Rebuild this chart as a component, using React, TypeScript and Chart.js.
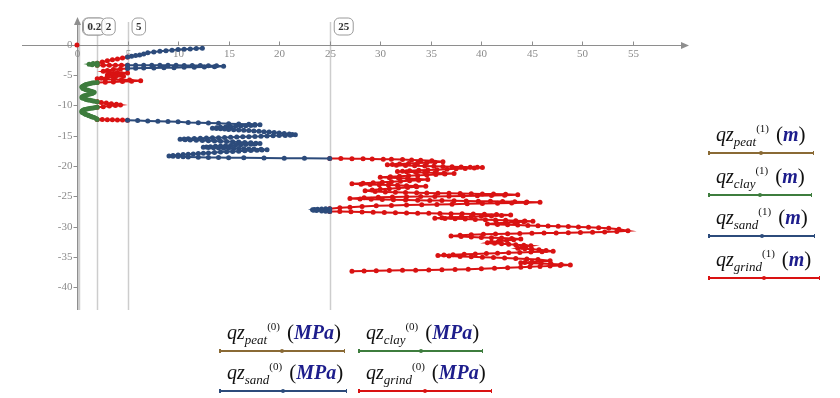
import React, { useEffect, useRef } from "react";
import { Chart, registerables } from "chart.js";
Chart.register(...registerables);

// ---------- axis / marker data ----------
const xTickValues = [0, 5, 10, 15, 20, 25, 30, 35, 40, 45, 50, 55];
const yTickValues = [0, -5, -10, -15, -20, -25, -30, -35, -40];
const markerValues = [0.1, 0.2, 2, 5, 25];
const markerLabels = ["0.1", "0.2", "2", "5", "25"];

// ---------- series names ----------
const soilNames = ["peat", "clay", "sand", "grind"];
const soilColors = ["#8a6a35", "#3e7d3e", "#2c4b7b", "#d91212"];

// ---------- data: [q (MPa), z (m)] per segment ----------
const peatSegments: number[][][] = [];

const claySeg1 = [[2, -3.0], [1.6, -3.08], [1.2, -3.18], [1.5, -3.28], [2, -3.35]];
const claySeg2 = [[2, -6.2], [1.7, -6.25], [1.5, -6.3], [1.3, -6.38], [1.1, -6.45], [0.9, -6.52], [0.8, -6.6], [0.7, -6.7], [0.6, -6.8], [0.5, -6.9], [0.5, -7.0], [0.6, -7.1], [0.6, -7.2], [0.8, -7.3], [0.9, -7.4], [1.1, -7.5], [1.3, -7.6], [1.5, -7.7], [1.7, -7.8], [1.6, -7.9], [1.5, -8.0], [1.3, -8.1], [1.1, -8.2], [0.9, -8.3], [0.7, -8.4], [0.6, -8.5], [0.5, -8.6], [0.5, -8.7], [0.6, -8.8], [0.8, -8.9], [0.9, -9.0], [1.1, -9.08], [1.3, -9.15], [1.5, -9.22], [1.7, -9.3], [2, -9.4]];
const claySeg3 = [[2, -10.3], [1.8, -10.35], [1.6, -10.4], [1.4, -10.45], [1.2, -10.5], [1.0, -10.58], [0.8, -10.65], [0.7, -10.72], [0.6, -10.8], [0.5, -10.9], [0.5, -11.0], [0.5, -11.1], [0.6, -11.2], [0.7, -11.3], [0.8, -11.4], [0.9, -11.5], [1.1, -11.6], [1.2, -11.7], [1.4, -11.8], [1.5, -11.9], [1.7, -12.0], [1.9, -12.15], [2, -12.3]];

const sandSeg1 = [[12.4, -0.55], [11.8, -0.6], [11.2, -0.65], [10.6, -0.7], [10, -0.75], [9.4, -0.85], [8.8, -0.95], [8.2, -1.05], [7.6, -1.15], [7.0, -1.3], [6.6, -1.5], [6.2, -1.65], [5.8, -1.75], [5.4, -1.85], [5.0, -2.0]];
const sandSeg2 = [[5, -3.35], [5.8, -3.35], [6.6, -3.35], [7.4, -3.35], [8.2, -3.35], [9, -3.35], [9.8, -3.35], [10.6, -3.4], [11.4, -3.4], [12.2, -3.4], [13, -3.45], [13.8, -3.45], [14.5, -3.5], [13.6, -3.6], [12.6, -3.65], [11.6, -3.7], [10.6, -3.7], [9.6, -3.75], [8.6, -3.75], [7.6, -3.8], [6.6, -3.8], [5.8, -3.85], [5, -3.9]];
const sandSeg3 = [[5, -12.45], [6, -12.5], [7, -12.55], [8, -12.6], [9, -12.65], [10, -12.7], [11, -12.8], [12, -12.85], [13, -12.9], [14, -12.95], [15, -13.0], [16, -13.05], [17, -13.1], [17.6, -13.15], [18.1, -13.2], [17.6, -13.25], [17.2, -13.3], [16.7, -13.35], [16.2, -13.4], [15.7, -13.45], [15.2, -13.5], [14.7, -13.55], [14.2, -13.6], [13.8, -13.68], [13.4, -13.75], [13.8, -13.8], [14.2, -13.85], [14.6, -13.9], [15, -13.95], [15.5, -14.0], [16, -14.05], [16.5, -14.1], [17, -14.15], [17.5, -14.2], [18, -14.25], [18.5, -14.32], [19, -14.4], [19.5, -14.48], [20, -14.55], [20.5, -14.62], [21, -14.7], [21.3, -14.78], [21.6, -14.85], [21.1, -14.9], [20.6, -14.95], [20, -14.98], [19.4, -15.0], [18.8, -15.05], [18.2, -15.1], [17.6, -15.12], [17, -15.15], [16.4, -15.18], [15.8, -15.2], [15.2, -15.25], [14.6, -15.3], [14, -15.32], [13.4, -15.35], [12.8, -15.38], [12.2, -15.4], [11.6, -15.45], [11, -15.5], [10.6, -15.55], [10.2, -15.6], [10.7, -15.65], [11.2, -15.7], [11.8, -15.75], [12.4, -15.8], [13, -15.82], [13.6, -15.85], [14.2, -15.9], [14.8, -15.95], [15.4, -16.0], [16, -16.05], [16.6, -16.1], [17.2, -16.15], [17.7, -16.22], [18.1, -16.3], [17.6, -16.35], [17.2, -16.4], [16.7, -16.45], [16.2, -16.5], [15.7, -16.55], [15.2, -16.6], [14.7, -16.65], [14.2, -16.7], [13.7, -16.75], [13.2, -16.8], [12.8, -16.85], [12.5, -16.9], [13, -16.95], [13.5, -17.0], [14, -17.02], [14.5, -17.05], [15, -17.08], [15.5, -17.1], [16, -17.12], [16.5, -17.15], [17, -17.18], [17.5, -17.2], [18.2, -17.25], [18.8, -17.3], [18.3, -17.35], [17.8, -17.4], [17.2, -17.45], [16.6, -17.5], [16, -17.55], [15.4, -17.6], [14.8, -17.65], [14.2, -17.7], [13.6, -17.78], [13, -17.85], [12.5, -17.9], [12, -17.95], [11.5, -18.0], [11, -18.05], [10.5, -18.12], [10, -18.2], [9.5, -18.28], [9.1, -18.35], [9.5, -18.4], [10, -18.45], [10.5, -18.48], [11, -18.5], [12, -18.55], [13, -18.58], [14, -18.6], [15, -18.62], [16.5, -18.65], [18.5, -18.68], [20.5, -18.7], [22.5, -18.72], [25, -18.75]];
const sandSeg4 = [[25, -27.05], [24.6, -27.08], [24.2, -27.1], [23.8, -27.15], [23.5, -27.2], [23.3, -27.25], [23.4, -27.3], [23.7, -27.35], [24.2, -27.42], [24.6, -27.46], [25, -27.5]];

const grindSeg0 = [[0, 0]];
const grindSeg1 = [[5, -2.0], [4.5, -2.15], [4, -2.3], [3.5, -2.45], [3, -2.6], [2.5, -2.8], [2, -3.0]];
const grindSeg2 = [[2, -3.35], [2.6, -3.35], [3.2, -3.35], [3.8, -3.35], [4.4, -3.35], [5, -3.35]];
const grindSeg3 = [[5, -3.9], [4.3, -3.95], [3.6, -4.05], [3, -4.2], [2.6, -4.35], [3.2, -4.45], [4, -4.55], [5, -4.65], [4.4, -4.75], [3.6, -4.85], [3, -4.95], [3.8, -5.05], [4.6, -5.15], [3.8, -5.25], [3, -5.35], [2.4, -5.5], [2, -5.6], [2.8, -5.65], [3.6, -5.7], [4.4, -5.75], [5.2, -5.8], [6.3, -5.9], [5.4, -6.0], [4.5, -6.05], [3.6, -6.1], [2.8, -6.15], [2, -6.2]];
const grindSeg4 = [[2, -9.4], [2.4, -9.5], [2.9, -9.6], [3.4, -9.7], [3.9, -9.8], [4.3, -9.9], [3.8, -10.0], [3.2, -10.1], [2.6, -10.2], [2, -10.3]];
const grindSeg5 = [[2, -12.3], [2.5, -12.32], [3, -12.34], [3.5, -12.36], [4, -12.38], [4.5, -12.4], [5, -12.42]];
const grindSeg6 = [
  [25, -18.75], [26.1, -18.77], [27.2, -18.79], [28.3, -18.81], [29.2, -18.84], [30.3, -18.87], [31.1, -18.9], [32.2, -18.94], [33.1, -18.99], [34, -19.05], [35.1, -19.14], [36.2, -19.3],
  [35.4, -19.38], [34.6, -19.45], [33.7, -19.52], [32.8, -19.6], [31.9, -19.68], [31.2, -19.74], [30.7, -19.8],
  [31.6, -19.86], [32.5, -19.92], [33.4, -19.97], [34.4, -20.02], [35.3, -20.06], [36.2, -20.1], [37.1, -20.13], [38, -20.16], [38.9, -20.19], [39.6, -20.22], [40.1, -20.26],
  [39.3, -20.33], [38.4, -20.4], [37.5, -20.47], [36.6, -20.53], [35.6, -20.6], [34.7, -20.66], [33.8, -20.72], [32.9, -20.79], [32.2, -20.85], [31.7, -20.9],
  [32.6, -20.97], [33.5, -21.03], [34.4, -21.09], [35.4, -21.14], [36.3, -21.19], [37.3, -21.25],
  [36.4, -21.33], [35.5, -21.41], [34.6, -21.48], [33.7, -21.55], [32.8, -21.62], [31.9, -21.69], [31, -21.76], [30, -21.85],
  [30.9, -21.93], [31.8, -22.0], [32.7, -22.07], [33.7, -22.15], [34.7, -22.25],
  [33.8, -22.34], [32.9, -22.43], [32, -22.52], [31.1, -22.6], [30.2, -22.68], [29.3, -22.76], [28.3, -22.85], [27.2, -22.95],
  [28.1, -23.0], [29, -23.05], [29.9, -23.1], [30.8, -23.15], [31.7, -23.2], [32.6, -23.25], [33.5, -23.3], [34.5, -23.36],
  [33.6, -23.45], [32.7, -23.55], [31.8, -23.65], [30.9, -23.75], [30, -23.85], [29.2, -23.97], [28.5, -24.1],
  [29.5, -24.2], [30.5, -24.28], [31.5, -24.34], [32.5, -24.39], [33.6, -24.43], [34.6, -24.46], [35.7, -24.49], [36.8, -24.52], [37.9, -24.55], [39, -24.58], [40.1, -24.61], [41.2, -24.64], [42.4, -24.68], [43.6, -24.75],
  [42.3, -24.82], [41, -24.88], [39.6, -24.93], [38.2, -24.97], [36.8, -25.0], [35.4, -25.03], [34, -25.06], [32.6, -25.09], [31.2, -25.13], [29.8, -25.18], [28.4, -25.26], [27, -25.36],
  [28, -25.44], [29.1, -25.5], [30.2, -25.55], [31.3, -25.59], [32.5, -25.63], [33.7, -25.66], [34.9, -25.69], [36.1, -25.72], [37.3, -25.75], [38.5, -25.78], [39.7, -25.81], [40.9, -25.84], [42.1, -25.87], [43.3, -25.9], [44.5, -25.94], [45.8, -26.0],
  [44.4, -26.06], [43, -26.11], [41.6, -26.16], [40.1, -26.21], [38.6, -26.26], [37.1, -26.31], [35.6, -26.36], [34.1, -26.41], [32.6, -26.46], [31.1, -26.52], [29.6, -26.59], [28.2, -26.68], [27, -26.8], [26, -26.92], [25, -27.05],
];
const grindSeg7 = [
  [25, -27.5], [26, -27.54], [27.1, -27.58], [28.2, -27.62], [29.3, -27.66], [30.4, -27.7], [31.5, -27.73], [32.6, -27.76], [33.7, -27.79], [34.8, -27.82], [35.9, -27.85], [37, -27.88], [38.1, -27.91], [39.2, -27.94], [40.3, -27.97], [41.5, -28.02], [42.9, -28.1],
  [42, -28.18], [41, -28.25], [40, -28.31], [39, -28.37], [38, -28.43], [37, -28.49], [36.1, -28.55], [35.4, -28.62],
  [36.4, -28.68], [37.4, -28.73], [38.4, -28.78], [39.4, -28.83], [40.4, -28.88], [41.4, -28.93], [42.4, -28.98], [43.4, -29.03], [44.3, -29.07], [45.1, -29.12],
  [44.2, -29.2], [43.3, -29.29], [42.4, -29.38], [41.5, -29.47], [40.6, -29.58],
  [41.6, -29.65], [42.6, -29.71], [43.6, -29.77], [44.6, -29.82], [45.6, -29.87], [46.6, -29.92], [47.6, -29.97], [48.6, -30.02], [49.6, -30.07], [50.6, -30.13], [51.6, -30.2], [52.6, -30.3], [53.6, -30.45], [54.5, -30.7],
  [53.4, -30.82], [52.2, -30.9], [51, -30.96], [49.8, -31.0], [48.6, -31.03], [47.4, -31.06], [46.2, -31.09], [45, -31.12], [43.8, -31.15], [42.6, -31.19], [41.4, -31.24], [40.2, -31.3], [39, -31.37], [37.9, -31.46], [37, -31.58],
  [38, -31.67], [39, -31.74], [40, -31.8], [41, -31.86], [42, -31.92], [43, -31.99], [43.9, -32.08],
  [43.2, -32.2], [42.5, -32.32], [41.7, -32.44], [41, -32.56], [40.6, -32.7],
  [41.3, -32.78], [42, -32.86], [42.7, -32.94], [43.4, -33.02], [44.2, -33.1], [44.9, -33.2],
  [44.4, -33.32], [44, -33.44], [43.6, -33.58], [44.3, -33.68], [45, -33.77], [45.7, -33.86], [46.4, -33.95], [47.1, -34.08],
  [46, -34.16], [44.9, -34.23], [43.8, -34.29], [42.7, -34.35], [41.6, -34.41], [40.5, -34.47], [39.4, -34.53], [38.3, -34.59], [37.2, -34.65], [36.3, -34.72], [35.7, -34.8],
  [36.8, -34.88], [37.9, -34.95], [39, -35.01], [40.1, -35.07], [41.2, -35.13], [42.3, -35.2], [43.4, -35.28], [44.5, -35.37], [45.6, -35.47], [46.8, -35.68],
  [45.9, -35.78], [45, -35.86], [44.3, -35.93], [43.9, -36.0],
  [44.9, -36.07], [45.9, -36.13], [46.9, -36.19], [47.9, -36.26], [48.8, -36.35],
  [47.8, -36.44], [46.8, -36.52], [45.8, -36.59], [44.8, -36.66], [43.9, -36.74], [42.6, -36.83], [41.3, -36.92], [40, -36.99], [38.7, -37.05], [37.4, -37.1], [36.1, -37.14], [34.8, -37.18], [33.5, -37.22], [32.2, -37.25], [30.9, -37.28], [29.6, -37.32], [28.4, -37.36], [27.2, -37.4],
];

const claySegments = [claySeg1, claySeg2, claySeg3];
const sandSegments = [sandSeg1, sandSeg2, sandSeg3, sandSeg4];
const grindSegments = [grindSeg0, grindSeg1, grindSeg2, grindSeg3, grindSeg4, grindSeg5, grindSeg6, grindSeg7];

function toPoints(segs: number[][][]) {
  const out: { x: number | null; y: number | null }[] = [];
  segs.forEach((s, i) => {
    if (i > 0) out.push({ x: null, y: null });
    s.forEach(([x, y]) => out.push({ x, y }));
  });
  return out;
}

const SERIF = "'Liberation Serif', 'DejaVu Serif', serif";

const axesPlugin = {
  id: "mcAxes",
  beforeDatasetsDraw(chart: any) {
    const { ctx, chartArea } = chart;
    const xs = chart.scales.x;
    const ys = chart.scales.y;
    const x0 = xs.getPixelForValue(0);
    const y0 = ys.getPixelForValue(0);
    ctx.save();
    ctx.strokeStyle = "#cdcdcd";
    ctx.lineWidth = 1.5;
    markerValues.forEach((v) => {
      const px = Math.round(xs.getPixelForValue(v)) + 0.5;
      ctx.beginPath();
      ctx.moveTo(px, chartArea.top + 4);
      ctx.lineTo(px, chartArea.bottom);
      ctx.stroke();
    });
    ctx.strokeStyle = "#8e8e8e";
    ctx.fillStyle = "#8e8e8e";
    ctx.lineWidth = 1;
    const yA = Math.round(y0) + 0.5;
    ctx.beginPath();
    ctx.moveTo(chartArea.left, yA);
    ctx.lineTo(chartArea.right - 4, yA);
    ctx.stroke();
    ctx.beginPath();
    ctx.moveTo(chartArea.right + 1, yA);
    ctx.lineTo(chartArea.right - 7, yA - 3.5);
    ctx.lineTo(chartArea.right - 7, yA + 3.5);
    ctx.closePath();
    ctx.fill();
    const xA = Math.round(x0) + 0.5;
    ctx.beginPath();
    ctx.moveTo(xA, chartArea.top + 6);
    ctx.lineTo(xA, chartArea.bottom);
    ctx.stroke();
    ctx.beginPath();
    ctx.moveTo(xA, chartArea.top - 1);
    ctx.lineTo(xA - 3.5, chartArea.top + 7);
    ctx.lineTo(xA + 3.5, chartArea.top + 7);
    ctx.closePath();
    ctx.fill();
    ctx.font = `11px ${SERIF}`;
    ctx.fillStyle = "#8a8a8a";
    ctx.textAlign = "center";
    ctx.textBaseline = "middle";
    xTickValues.forEach((v) => {
      const px = Math.round(xs.getPixelForValue(v)) + 0.5;
      if (v !== 0) {
        ctx.beginPath();
        ctx.moveTo(px, yA - 4);
        ctx.lineTo(px, yA);
        ctx.stroke();
      }
      ctx.fillText(String(v), px, yA + 9);
    });
    ctx.textAlign = "right";
    yTickValues.forEach((v) => {
      const py = Math.round(ys.getPixelForValue(v)) + 0.5;
      ctx.beginPath();
      ctx.moveTo(xA - 4, py);
      ctx.lineTo(xA, py);
      ctx.stroke();
      ctx.fillText(String(v), xA - 5, py);
    });
    ctx.restore();
  },
  afterDatasetsDraw(chart: any) {
    const { ctx, chartArea } = chart;
    const xs = chart.scales.x;
    ctx.save();
    ctx.font = `bold 11px ${SERIF}`;
    ctx.textBaseline = "middle";
    ctx.textAlign = "left";
    markerValues.forEach((v, i) => {
      const px = xs.getPixelForValue(v);
      const label = markerLabels[i];
      const w = ctx.measureText(label).width + 8;
      const bx = px + 4.5;
      const by = chartArea.top;
      const h = 17;
      ctx.beginPath();
      if ((ctx as any).roundRect) (ctx as any).roundRect(bx, by, w, h, 5);
      else ctx.rect(bx, by, w, h);
      ctx.fillStyle = "rgba(255,255,255,0.85)";
      ctx.fill();
      ctx.strokeStyle = "#9a9a9a";
      ctx.lineWidth = 1;
      ctx.stroke();
      ctx.fillStyle = "#333";
      ctx.fillText(label, bx + 4, by + h / 2 + 0.5);
    });
    ctx.restore();
  },
};

function MathLabel({ sub, sup, unit }: { sub: string; sup: string; unit: string }) {
  return (
    <span style={{ fontFamily: SERIF, whiteSpace: "nowrap", color: "#111", lineHeight: "24px" }}>
      <span style={{ fontStyle: "italic", fontSize: 20 }}>qz</span>
      <span style={{ fontStyle: "italic", fontSize: 13, position: "relative", top: 5 }}>{sub}</span>
      <span style={{ fontSize: 11, position: "relative", top: -9 }}>{sup}</span>
      <span style={{ fontSize: 21, marginLeft: 7 }}>(</span>
      <span style={{ fontStyle: "italic", fontWeight: "bold", fontSize: 20, color: "#1d1d8c" }}>{unit}</span>
      <span style={{ fontSize: 21 }}>)</span>
    </span>
  );
}

function LegendEntry(props: { name: string; color: string; sup: string; unit: string; textLeft: number; lineY: number; x1: number; x2: number }) {
  const { name, color, sup, unit, textLeft, lineY, x1, x2 } = props;
  const mid = (x1 + x2) / 2;
  return (
    <>
      <div style={{ position: "absolute", left: textLeft, top: lineY - 31, height: 24 }}>
        <MathLabel sub={name} sup={sup} unit={unit} />
      </div>
      <div style={{ position: "absolute", left: x1, top: lineY - 0.75, width: x2 - x1, height: 1.5, background: color }} />
      <div style={{ position: "absolute", left: x1, top: lineY - 2, width: 1.5, height: 4, background: color }} />
      <div style={{ position: "absolute", left: x2 - 1.5, top: lineY - 2, width: 1.5, height: 4, background: color }} />
      <div style={{ position: "absolute", left: mid - 2, top: lineY - 2, width: 4, height: 4, borderRadius: 2, background: color }} />
    </>
  );
}

export default function App() {
  const ref = useRef<HTMLCanvasElement | null>(null);
  useEffect(() => {
    if (!ref.current) return;
    const segsList = [peatSegments, claySegments, sandSegments, grindSegments];
    const chart = new Chart(ref.current, {
      type: "scatter",
      data: {
        datasets: soilNames.map((n, i) => ({
          label: n,
          data: toPoints(segsList[i]) as any,
          showLine: true,
          spanGaps: false,
          borderColor: soilColors[i],
          backgroundColor: soilColors[i],
          borderWidth: 2,
          pointRadius: 2.5,
          pointBorderWidth: 0,
          pointHoverRadius: 2.5,
        })),
      },
      options: {
        responsive: false,
        animation: false,
        devicePixelRatio: 1,
        layout: { padding: { left: 22, right: 152, top: 18, bottom: 88 } },
        scales: {
          x: { type: "linear", min: -5.44, max: 60.44, display: false },
          y: { type: "linear", min: -43.8, max: 4.46, display: false },
        },
        plugins: { legend: { display: false }, tooltip: { enabled: false } },
      },
      plugins: [axesPlugin],
    });
    return () => chart.destroy();
  }, []);

  const rightLines = [153, 195, 236, 278];
  const rightEnds = [814, 812, 815, 820];
  const bottomPos = [
    { textLeft: 227, lineY: 351, x1: 219, x2: 345 },
    { textLeft: 366, lineY: 351, x1: 358, x2: 483 },
    { textLeft: 227, lineY: 391, x1: 219, x2: 347 },
    { textLeft: 366, lineY: 391, x1: 358, x2: 492 },
  ];

  return (
    <div style={{ position: "fixed", left: 0, top: 0, width: 840, height: 398, background: "#fff", overflow: "hidden" }}>
      <canvas ref={ref} width={840} height={398} style={{ position: "absolute", left: 0, top: 0, width: 840, height: 398 }} />
      {soilNames.map((n, i) => (
        <LegendEntry key={"r" + n} name={n} color={soilColors[i]} sup="(1)" unit="m" textLeft={716} lineY={rightLines[i]} x1={708} x2={rightEnds[i]} />
      ))}
      {soilNames.map((n, i) => (
        <LegendEntry key={"b" + n} name={n} color={soilColors[i]} sup="(0)" unit="MPa" {...bottomPos[i]} />
      ))}
    </div>
  );
}
